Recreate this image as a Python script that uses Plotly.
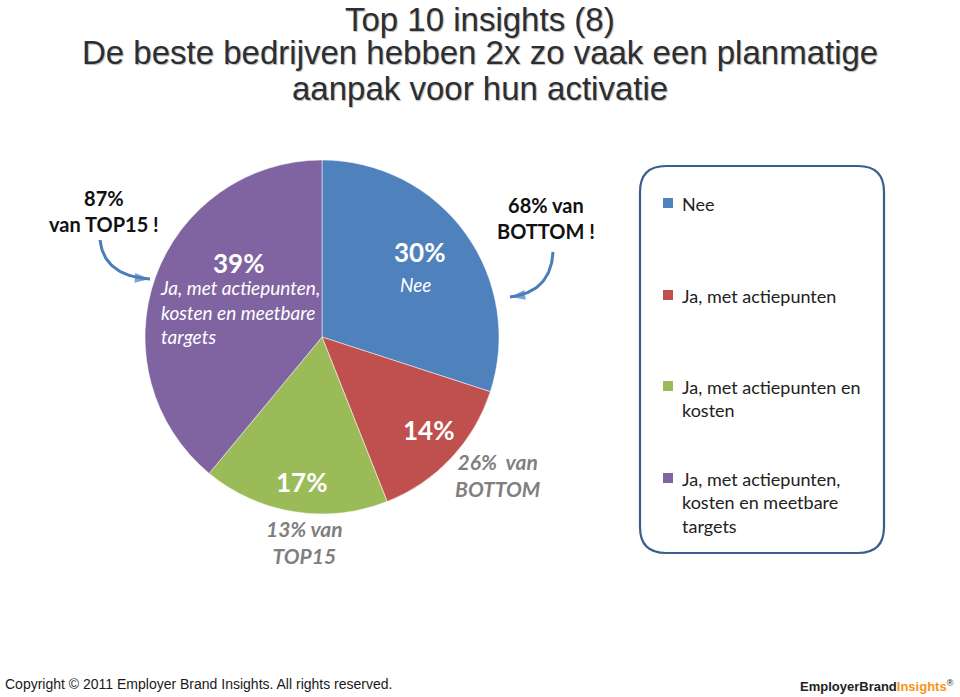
import numpy as np
import plotly.graph_objects as go

categories = ['Nee', 'Ja, met actiepunten', 'Ja, met actiepunten en kosten',
              'Ja, met actiepunten, kosten en meetbare targets']
legend_labels = ['Nee', 'Ja, met actiepunten', 'Ja, met actiepunten en<br>kosten',
                 'Ja, met actiepunten,<br>kosten en meetbare<br>targets']
values = [30, 14, 17, 39]
colors = ['#4F81BD', '#C0504D', '#9BBB59', '#8064A2']
title_lines = ['Top 10 insights (8)',
               'De beste bedrijven hebben 2x zo vaak een planmatige',
               'aanpak voor hun activatie']

W, H = 960, 697
FONT = 'Lato'
BLUE_ARROW = '#4A7EBB'


def bezier(p0, p1, p2, n=40):
    t = np.linspace(0, 1, n)
    x = (1 - t) ** 2 * p0[0] + 2 * (1 - t) * t * p1[0] + t ** 2 * p2[0]
    y = (1 - t) ** 2 * p0[1] + 2 * (1 - t) * t * p1[1] + t ** 2 * p2[1]
    return x, y


def arrow_trace(x, y, color, width, head=14):
    sizes = [0] * (len(x) - 1) + [head]
    return go.Scatter(
        x=x, y=y, mode='lines+markers', xaxis='x', yaxis='y',
        line=dict(color=color, width=width),
        marker=dict(symbol='arrow', size=sizes, color=color, angleref='previous',
                    line=dict(width=0)),
        hoverinfo='skip', showlegend=False,
    )


fig = go.Figure()

# pie
fig.add_trace(go.Pie(
    labels=categories, values=values, sort=False, direction='clockwise', rotation=0,
    marker=dict(colors=colors, line=dict(color='white', width=0.5)),
    textinfo='none', hoverinfo='label+percent', showlegend=False,
    domain=dict(x=[145 / W, 499 / W], y=[1 - 514 / H, 1 - 160 / H]),
))

# circular arrow in the centre
ang = np.radians(np.linspace(105, -150, 60))
cx, cy, r = 323, 341, 31
fig.add_trace(arrow_trace(cx + r * np.cos(ang), cy - r * np.sin(ang), 'white', 3, 15))

# curved callout arrows
ax, ay = bezier((100, 240), (104, 276), (150, 279))
fig.add_trace(arrow_trace(ax, ay, BLUE_ARROW, 3, 16))
bx, by = bezier((553, 252), (551, 292), (510, 297))
fig.add_trace(arrow_trace(bx, by, BLUE_ARROW, 3, 16))

# legend squares
leg_y = [203, 295, 386, 478]
fig.add_trace(go.Scatter(
    x=[668] * 4, y=leg_y, mode='markers', xaxis='x', yaxis='y',
    marker=dict(symbol='square', size=10, color=colors), hoverinfo='skip', showlegend=False,
))

ann = []
# title, one annotation per line for tight line spacing
for yy, line in zip([19, 52, 88], title_lines):
    ann.append(dict(
        x=480, y=yy, text=line,
        font=dict(family='Liberation Sans', size=33, color='#2b2f33',
                  shadow='1px 1px 1px #b8b8b8'),
    ))

# slice labels
pct = [f'{v}%' for v in values]
ann += [
    dict(x=419, y=252, text=f'<b>{pct[0]}</b>', font=dict(size=26, color='white')),
    dict(x=415, y=284, text='<i>Nee</i>', font=dict(size=19, color='white')),
    dict(x=428, y=430, text=f'<b>{pct[1]}</b>', font=dict(size=26, color='white')),
    dict(x=301, y=482, text=f'<b>{pct[2]}</b>', font=dict(size=26, color='white')),
    dict(x=238, y=263, text=f'<b>{pct[3]}</b>', font=dict(size=26, color='white')),
    dict(x=158, y=312, xanchor='left',
         text='<i>Ja, met actiepunten,<br>kosten en meetbare<br>targets</i>',
         font=dict(size=19, color='white'), align='left'),
]

# callouts
ann += [
    dict(x=104, y=211, text='<b>87%<br>van TOP15 !</b>', font=dict(size=20, color='#111111')),
    dict(x=546, y=218, text='<b>68% van<br>BOTTOM !</b>', font=dict(size=20, color='#111111')),
    dict(x=497, y=475, text='<b><i>26%  van<br>BOTTOM</i></b>', font=dict(size=21, color='#7f7f7f')),
    dict(x=304, y=542, text='<b><i>13% van<br>TOP15</i></b>', font=dict(size=21, color='#7f7f7f')),
]

# legend labels
for yy, lab in zip(leg_y, legend_labels):
    ann.append(dict(x=680, y=yy - 12, xanchor='left', yanchor='top', align='left',
                    text=lab, font=dict(size=18, color='#222222')))

# footer
ann += [
    dict(x=3, y=684, xanchor='left', text='Copyright © 2011 Employer Brand Insights. All rights reserved.',
         font=dict(family='Liberation Sans', size=14, color='#1a1a1a')),
    dict(x=956, y=686, xanchor='right',
         text='<b>EmployerBrand<span style="color:#F7941D">Insights</span></b><sup>®</sup>',
         font=dict(family='Liberation Sans', size=13, color='#222222')),
]

for a in ann:
    a.setdefault('xref', 'x')
    a.setdefault('yref', 'y')
    a.setdefault('showarrow', False)
    a['font'].setdefault('family', FONT)

# rounded legend frame
x0, y0, x1, y1, rr = 640, 166, 884, 553, 26
path = (f'M {x0 + rr},{y0} L {x1 - rr},{y0} Q {x1},{y0} {x1},{y0 + rr} '
        f'L {x1},{y1 - rr} Q {x1},{y1} {x1 - rr},{y1} L {x0 + rr},{y1} '
        f'Q {x0},{y1} {x0},{y1 - rr} L {x0},{y0 + rr} Q {x0},{y0} {x0 + rr},{y0} Z')

fig.update_layout(
    width=W, height=H,
    margin=dict(l=0, r=0, t=0, b=0),
    paper_bgcolor='white', plot_bgcolor='rgba(0,0,0,0)',
    xaxis=dict(range=[0, W], visible=False, fixedrange=True),
    yaxis=dict(range=[H, 0], visible=False, fixedrange=True),
    annotations=ann,
    shapes=[dict(type='path', path=path, xref='x', yref='y',
                 line=dict(color='#3B5E8E', width=2.2))],
    showlegend=False,
)

# the page body has a default 8px margin; remove it so the figure fills the window
fig.write_html('out.html', config={'displayModeBar': False},
               post_script="document.body.style.margin='0px';")
